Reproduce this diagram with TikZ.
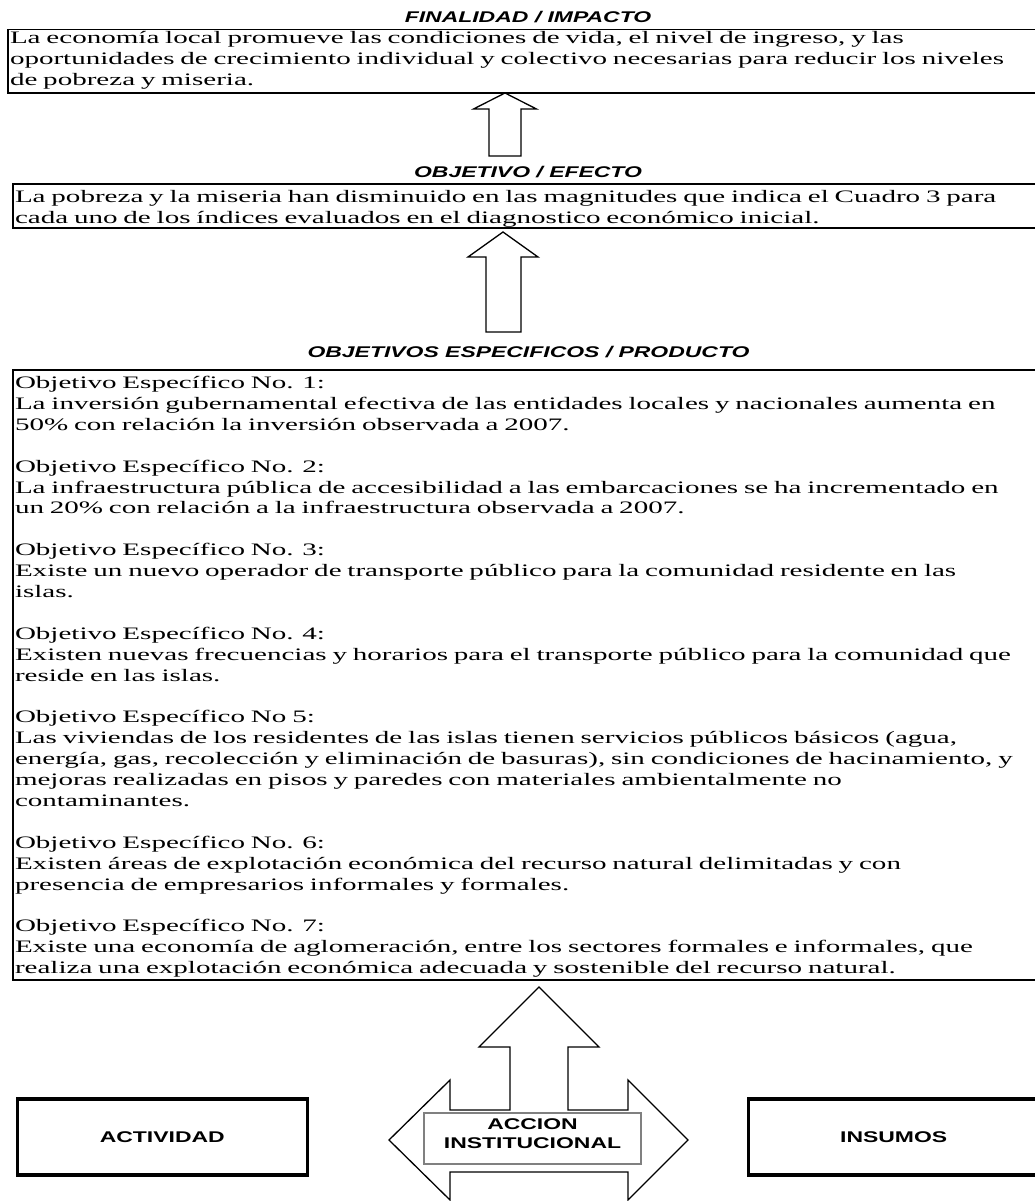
\documentclass[tikz,border=0pt]{standalone}
\usepackage{fontspec}
\setmainfont{Liberation Serif}[FakeStretch=1.66]
\newfontfamily\hdfont{Liberation Sans}[FakeStretch=1.48]
\begin{document}
\begin{tikzpicture}[x=1pt,y=-1pt,
  txtbox/.style={draw, line width=1.6pt, anchor=north west, inner xsep=2pt, inner ysep=0pt,
    outer sep=0pt, text width=1060pt, align=left, font=\fontsize{17.5}{20.9}\selectfont},
  hd/.style={font=\hdfont\bfseries\itshape\fontsize{15.5}{18}\selectfont, anchor=base, inner sep=0pt},
  lbl/.style={font=\hdfont\bfseries\fontsize{15.5}{19.5}\selectfont, align=center},
  sidebox/.style={lbl, draw, line width=3.3pt, minimum width=290pt, minimum height=76pt, inner sep=0pt},
  accbox/.style={lbl, draw=black!50, line width=1.6pt, fill=white, minimum width=217pt, minimum height=51pt, inner sep=0pt},
  blockarrow/.style={draw, fill=white, line width=1.3pt, line join=miter}]
\useasboundingbox (0,0) rectangle (1034,1201);

% titles
\node[hd] (t1) at (528,22.7) {FINALIDAD / IMPACTO};
\node[hd] (t2) at (528,178) {OBJETIVO / EFECTO};
\node[hd] (t3) at (528.5,357) {OBJETIVOS ESPECIFICOS / PRODUCTO};

% boxes
\node[txtbox] (fin) at (8,29.5) {\rule{0pt}{14.5pt}La economía local promueve las condiciones de vida, el nivel de ingreso, y las\\
oportunidades de crecimiento individual y colectivo necesarias para reducir los niveles\\
de pobreza y miseria.\rule[-7pt]{0pt}{7pt}};

\node[txtbox] (obj) at (13,184) {\rule{0pt}{18.5pt}La pobreza y la miseria han disminuido en las magnitudes que indica el Cuadro 3 para\\
cada uno de los índices evaluados en el diagnostico económico inicial.\rule[-4.6pt]{0pt}{4.6pt}};

\node[txtbox] (esp) at (13,370) {\rule{0pt}{18.5pt}Objetivo Específico No. 1:\\
La inversión gubernamental efectiva de las entidades locales y nacionales aumenta en\\
50\% con relación la inversión observada a 2007.\\[20.9pt]
Objetivo Específico No. 2:\\
La infraestructura pública de accesibilidad a las embarcaciones se ha incrementado en\\
un 20\% con relación a la infraestructura observada a 2007.\\[20.9pt]
Objetivo Específico No. 3:\\
Existe un nuevo operador de transporte público para la comunidad residente en las\\
islas.\\[20.9pt]
Objetivo Específico No. 4:\\
Existen nuevas frecuencias y horarios para el transporte público para la comunidad que\\
reside en las islas.\\[20.9pt]
Objetivo Específico No 5:\\
Las viviendas de los residentes de las islas tienen servicios públicos básicos (agua,\\
energía, gas, recolección y eliminación de basuras), sin condiciones de hacinamiento, y\\
mejoras realizadas en pisos y paredes con materiales ambientalmente no\\
contaminantes.\\[20.9pt]
Objetivo Específico No. 6:\\
Existen áreas de explotación económica del recurso natural delimitadas y con\\
presencia de empresarios informales y formales.\\[20.9pt]
Objetivo Específico No. 7:\\
Existe una economía de aglomeración, entre los sectores formales e informales, que\\
realiza una explotación económica adecuada y sostenible del recurso natural.\rule[-6.3pt]{0pt}{6.3pt}};

% block arrows
\coordinate (a1tip) at (505,93);
\draw[blockarrow] (a1tip) -- ++(31.5,16) -- ++(-15.5,0) -- ++(0,47) -- ++(-32,0) -- ++(0,-47) -- ++(-15.5,0) -- cycle;
\coordinate (a2tip) at (503,232);
\draw[blockarrow] (a2tip) -- ++(35,25) -- ++(-17,0) -- ++(0,75) -- ++(-35,0) -- ++(0,-75) -- ++(-18,0) -- cycle;

\coordinate (a3tip) at (539,987);
\draw[blockarrow] (a3tip) -- (599,1047) -- (568,1047) -- (568,1110) -- (628,1110) -- (628,1080)
  -- (688,1140) -- (628,1200) -- (628,1172) -- (450,1172) -- (450,1200) -- (389,1140)
  -- (450,1080) -- (450,1110) -- (510,1110) -- (510,1047) -- (479,1047) -- cycle;

% bottom nodes
\node[accbox] (acc) at (532.5,1138.5) {ACCION\\INSTITUCIONAL\rule[-9.4pt]{0pt}{0pt}};
\node[sidebox] (act) at (162.3,1137) {ACTIVIDAD};
\node[sidebox] (ins) at (893.7,1137) {INSUMOS};
\end{tikzpicture}
\end{document}
